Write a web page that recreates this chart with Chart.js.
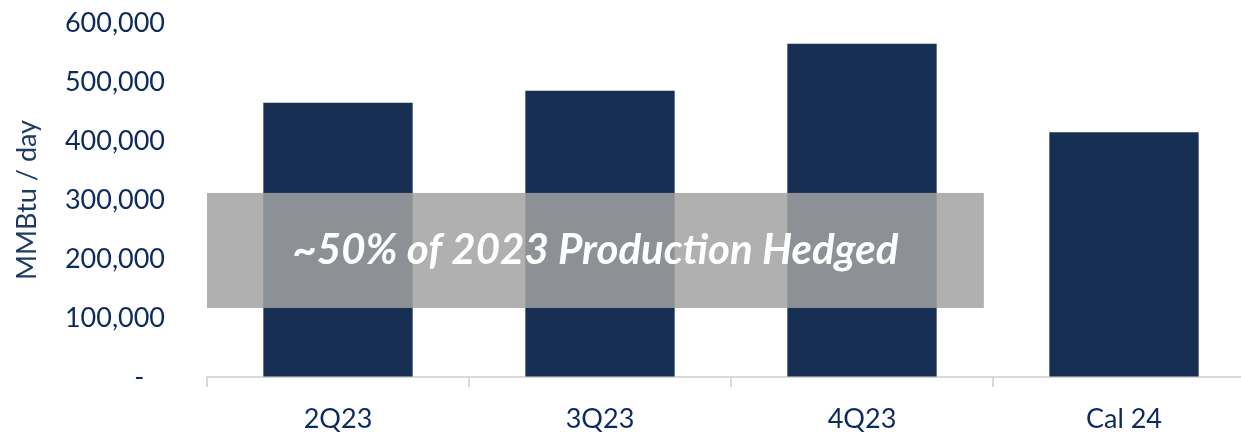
<!DOCTYPE html>
<html>
<head>
<meta charset="utf-8">
<script src="https://cdn.jsdelivr.net/npm/chart.js@4/dist/chart.umd.min.js"></script>
<style>
  html, body { margin: 0; padding: 0; background: #fff; overflow: hidden; }
  #wrap { width: 1255px; height: 436px; position: relative; }
</style>
</head>
<body>
<div id="wrap"><canvas id="myChart"></canvas></div>
<script>
  // chart values
  const periods = ['2Q23', '3Q23', '4Q23', 'Cal 24'];
  const hedgedVolumes = [465000, 485000, 565000, 415000];
  const yTicks = [0, 100000, 200000, 300000, 400000, 500000, 600000];
  const hedgeNote = '~50% of 2023 Production Hedged';

  // shaded note box, in axis units (category index / MMBtu per day)
  const noteBox = { xFrom: -0.5, xTo: 2.465, yFrom: 117000, yTo: 312000 };

  const navy = '#162f53';
  const textNavy = '#0d2a5e';
  const fontFam = 'Lato, "Open Sans", sans-serif';

  const notePlugin = {
    id: 'noteBox',
    afterDatasetsDraw(chart) {
      const ctx = chart.ctx;
      const xs = chart.scales.x, ys = chart.scales.y;
      const step = xs.getPixelForValue(1) - xs.getPixelForValue(0);
      const x0 = xs.getPixelForValue(0) + noteBox.xFrom * step;
      const x1 = xs.getPixelForValue(0) + noteBox.xTo * step;
      const y0 = ys.getPixelForValue(noteBox.yTo);
      const y1 = ys.getPixelForValue(noteBox.yFrom);
      ctx.save();
      ctx.fillStyle = 'rgba(162,162,162,0.85)';
      ctx.fillRect(x0, y0, x1 - x0, y1 - y0);
      ctx.fillStyle = '#ffffff';
      ctx.font = 'italic bold 42px ' + fontFam;
      ctx.textAlign = 'center';
      ctx.textBaseline = 'middle';
      ctx.fillText(hedgeNote, (x0 + x1) / 2, (y0 + y1) / 2);
      ctx.restore();
    }
  };

  const ctx = document.getElementById('myChart').getContext('2d');
  const myChart = new Chart(ctx, {
    type: 'bar',
    data: {
      labels: periods,
      datasets: [{
        label: 'MMBtu / day',
        data: hedgedVolumes,
        backgroundColor: navy,
        borderWidth: 0,
        categoryPercentage: 1,
        barPercentage: 0.57
      }]
    },
    options: {
      responsive: true,
      maintainAspectRatio: false,
      animation: false,
      layout: { padding: { top: 23, left: 0, right: 0, bottom: 0 } },
      plugins: { legend: { display: false }, tooltip: { enabled: false } },
      scales: {
        x: {
          grid: {
            offset: true,
            drawOnChartArea: false,
            drawTicks: true,
            tickLength: 10,
            color: '#d9d9d9',
            lineWidth: 2
          },
          border: { display: true, color: '#d9d9d9', width: 2 },
          ticks: {
            color: textNavy,
            font: { family: fontFam, size: 27 },
            padding: 16,
            maxRotation: 0
          },
          afterFit(scale) { scale.height = 59; }
        },
        y: {
          min: 0,
          max: 600000,
          afterBuildTicks(scale) { scale.ticks = yTicks.map(v => ({ value: v })); },
          grid: {
            display: true,
            drawOnChartArea: false,
            drawTicks: true,
            tickLength: 40,
            color: 'rgba(0,0,0,0)'
          },
          border: { display: false },
          ticks: {
            color: textNavy,
            font: { family: fontFam, size: 27 },
            padding: 2,
            callback: v => v === 0 ? '-   ' : v.toLocaleString('en-US')
          },
          title: {
            display: true,
            text: 'MMBtu / day',
            color: '#1f3a60',
            font: { family: fontFam, size: 27 },
            padding: { top: 11, bottom: 0 }
          },
          afterFit(scale) { scale.width = 207; }
        }
      }
    },
    plugins: [notePlugin]
  });
</script>
</body>
</html>
